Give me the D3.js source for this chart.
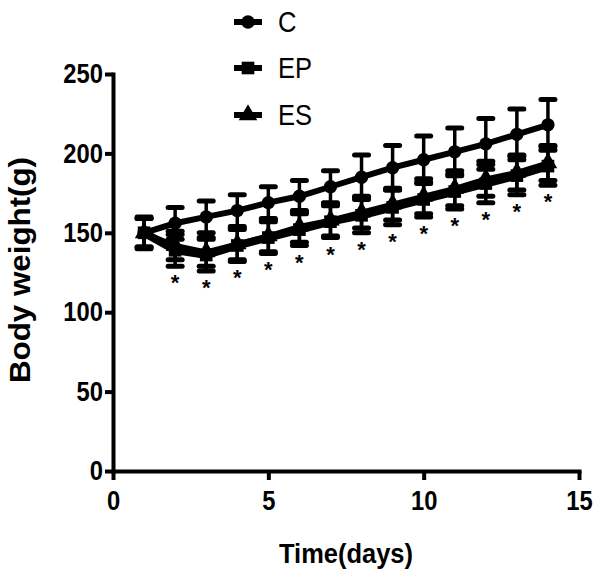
<!DOCTYPE html>
<html><head><meta charset="utf-8">
<script src="https://cdn.jsdelivr.net/npm/d3@7"></script>
<style>body{margin:0;background:#fff}svg{display:block}</style>
</head><body>
<svg id="c" width="600" height="578"></svg>
<script>
const days = [1,2,3,4,5,6,7,8,9,10,11,12,13,14];
const seriesNames = ["C","EP","ES"];
const cMean = [150,156,160,164,169,173,179,185,191,196,201,206,212,218];
const cSD   = [10,10,10,10,10,10,10,14,14,15,15,16,16,16];
const epMean = [150,139,136,142,147,152,157,161,166,171,176,181,186,192];
const epSD   = [9,10,10,10,10,10,10,11,11,11,11,12,12,12];
const esMean = [150,142,138,143,148,154,158,163,168,173,178,184,188,194];
const esSD   = [9,9,9,10,10,10,10,10,10,11,11,11,11,11];
const starDays = [2,3,4,5,6,7,8,9,10,11,12,13,14];
const xTicks = [0,5,10,15];
const yTicks = [0,50,100,150,200,250];

const svg = d3.select("#c");
const x = d3.scaleLinear().domain([0,15]).range([113,579]);
const y = d3.scaleLinear().domain([0,250]).range([471,74]);
const font = "'Liberation Sans',Arial,sans-serif";
const sx = 0.88;

// axes
const xAxis = svg.append("g").attr("transform","translate(0,471)")
  .call(d3.axisBottom(x).tickValues(xTicks).tickSize(9).tickSizeOuter(0).tickPadding(11));
const yAxis = svg.append("g").attr("transform","translate(113,0)")
  .call(d3.axisLeft(y).tickValues(yTicks).tickSize(8).tickSizeOuter(0).tickPadding(2));
[xAxis,yAxis].forEach(a=>{
  a.selectAll("path").attr("stroke","#000").attr("stroke-width",4).attr("stroke-linecap","square");
  a.selectAll("line").attr("stroke","#000").attr("stroke-width",4);
  a.selectAll("text").attr("fill","#000").style("font-family",font).style("font-weight","bold").style("font-size","27px")
    .attr("transform",`scale(${sx},1)`);
});
yAxis.selectAll("text").attr("x",-10/sx);

svg.append("text").attr("transform",`translate(346,563) scale(0.91,1)`).attr("text-anchor","middle")
  .style("font-family",font).style("font-weight","bold").style("font-size","28px").text("Time(days)");
svg.append("text").attr("transform",`translate(30,270) rotate(-90) scale(1.08,1)`).attr("text-anchor","middle")
  .style("font-family",font).style("font-weight","bold").style("font-size","29px").text("Body weight(g)");

const series = [
  {name:"C", mean:cMean, sd:cSD, lw:6, sym:d3.symbolCircle, size:140},
  {name:"EP", mean:epMean, sd:epSD, lw:8, sym:d3.symbolSquare, size:160},
  {name:"ES", mean:esMean, sd:esSD, lw:5, sym:d3.symbolTriangle, size:150}
];

const capW = 7;
series.forEach(s=>{
  const g = svg.append("g");
  days.forEach((d,i)=>{
    const x0 = x(d), yt = y(s.mean[i]+s.sd[i]), yb = y(s.mean[i]-s.sd[i]);
    g.append("line").attr("x1",x0).attr("x2",x0).attr("y1",yt).attr("y2",yb).attr("stroke","#000").attr("stroke-width",3.5);
    [yt,yb].forEach(yy=>g.append("line").attr("x1",x0-capW).attr("x2",x0+capW).attr("y1",yy).attr("y2",yy)
      .attr("stroke","#000").attr("stroke-width",5).attr("stroke-linecap","round"));
  });
});
series.forEach(s=>{
  const line = d3.line().x((d,i)=>x(days[i])).y(d=>y(d));
  svg.append("path").attr("d",line(s.mean)).attr("fill","none").attr("stroke","#000").attr("stroke-width",s.lw);
  days.forEach((d,i)=>{
    svg.append("path").attr("d",d3.symbol().type(s.sym).size(s.size)())
      .attr("transform",`translate(${x(d)},${y(s.mean[i])})`).attr("fill","#000");
  });
});

// significance stars
starDays.forEach(d=>{
  const i = days.indexOf(d);
  const low = Math.min(epMean[i]-epSD[i], esMean[i]-esSD[i]);
  svg.append("text").attr("x",x(d)).attr("y",y(low)+24).attr("text-anchor","middle")
    .style("font-family",font).style("font-weight","bold").style("font-size","22px").text("*");
});

// legend
const leg = [{s:series[0],y:22},{s:series[1],y:68},{s:series[2],y:115}];
leg.forEach(l=>{
  svg.append("line").attr("x1",234).attr("x2",262).attr("y1",l.y).attr("y2",l.y).attr("stroke","#000").attr("stroke-width",6);
  svg.append("path").attr("d",d3.symbol().type(l.s.sym).size(l.s.size)()).attr("transform",`translate(248,${l.y})`).attr("fill","#000");
  svg.append("text").attr("transform",`translate(278,${l.y+10}) scale(${sx},1)`).style("font-family",font).style("font-size","29px").text(l.s.name);
});
</script>
</body></html>
